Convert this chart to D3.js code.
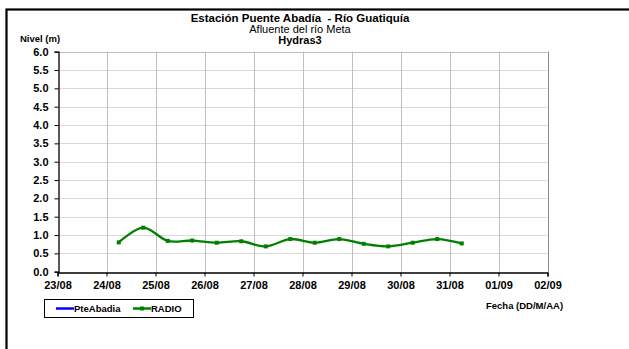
<!DOCTYPE html>
<html><head><meta charset="utf-8">
<script src="https://cdn.jsdelivr.net/npm/d3@7"></script>
<style>
html,body{margin:0;padding:0;background:#fff;}
svg{display:block;font-family:"Liberation Sans",Arial,sans-serif;}
text{white-space:pre;}
</style></head>
<body>
<svg id="c" width="629" height="349"></svg>
<script>
const titleLines = ["Estación Puente Abadía  - Río Guatiquía", "Afluente del río Meta", "Hydras3"];
const yLabel = "Nivel (m)";
const xLabel = "Fecha (DD/M/AA)";
const seriesNames = ["PteAbadia", "RADIO"];
const seriesColors = ["#0000ff", "#008000"];
const xDomain = ["2023-08-23T00:00", "2023-09-02T00:00"];
const yTicks = [0, 0.5, 1, 1.5, 2, 2.5, 3, 3.5, 4, 4.5, 5, 5.5, 6];
const pteAbadiaTimes = [];
const pteAbadiaValues = [];
const radioTimes = ["2023-08-24T06:00","2023-08-24T18:00","2023-08-25T06:00","2023-08-25T18:00",
  "2023-08-26T06:00","2023-08-26T18:00","2023-08-27T06:00","2023-08-27T18:00",
  "2023-08-28T06:00","2023-08-28T18:00","2023-08-29T06:00","2023-08-29T18:00",
  "2023-08-30T06:00","2023-08-30T18:00","2023-08-31T06:00"];
const radioValues = [0.80, 1.20, 0.84, 0.85, 0.79, 0.83, 0.69, 0.89, 0.79, 0.89, 0.76, 0.69, 0.79, 0.89, 0.77];

const svg = d3.select("#c");
const L = 57.5, R = 547.5, T = 51.7, B = 271.7;
const parse = d3.timeParse("%Y-%m-%dT%H:%M");
const x = d3.scaleTime().domain(xDomain.map(parse)).range([L, R]);
const y = d3.scaleLinear().domain([0, 6]).range([B, T]);

// outer frame
svg.append("rect").attr("x", 6.5).attr("y", 9.5).attr("width", 700).attr("height", 400)
  .attr("fill", "none").attr("stroke", "#000").attr("stroke-width", 2.2);

// gridlines
const days = x.ticks(d3.timeDay.every(1));
svg.append("g").selectAll("line").data(yTicks.filter(d => d > 0)).join("line")
  .attr("x1", L).attr("x2", R).attr("y1", d => Math.round(y(d)) + 0.5).attr("y2", d => Math.round(y(d)) + 0.5)
  .attr("stroke", "#d9d9d9").attr("stroke-width", 1);
svg.append("g").selectAll("line").data(days.slice(1)).join("line")
  .attr("x1", d => Math.round(x(d)) + 0.5).attr("x2", d => Math.round(x(d)) + 0.5).attr("y1", T).attr("y2", B)
  .attr("stroke", "#bfbfbf").attr("stroke-width", 1);
svg.append("line").attr("x1", L).attr("x2", R).attr("y1", Math.round(T) + 0.5).attr("y2", Math.round(T) + 0.5).attr("stroke", "#bfbfbf");
svg.append("line").attr("x1", Math.round(R) + 0.5).attr("x2", Math.round(R) + 0.5).attr("y1", T).attr("y2", B).attr("stroke", "#8c8c8c");

// axes
const yAxis = d3.axisLeft(y).tickValues(yTicks).tickFormat(d3.format(".1f")).tickSize(4).tickPadding(6);
const gy = svg.append("g").attr("transform", `translate(${Math.round(L) + 0.5},0)`).call(yAxis);
const xAxis = d3.axisBottom(x).ticks(d3.timeDay.every(1)).tickFormat(d3.timeFormat("%d/%m")).tickSize(4).tickPadding(5);
const gx = svg.append("g").attr("transform", `translate(0,${Math.round(B) + 0.5})`).call(xAxis);
[gx, gy].forEach(g => {
  g.select(".domain").attr("stroke", "#000").attr("stroke-width", 1.3);
  g.selectAll(".tick line").attr("stroke", "#000");
  g.selectAll(".tick text").attr("fill", "#000").attr("font-size", "11px").attr("font-weight", "bold")
    .attr("font-family", "Liberation Sans, Arial, sans-serif");
});

// series
const line = d3.line().x(d => x(d.t)).y(d => y(d.v)).curve(d3.curveCatmullRom.alpha(0));
const radio = radioTimes.map((t, i) => ({t: parse(t), v: radioValues[i]}));
const pte = pteAbadiaTimes.map((t, i) => ({t: parse(t), v: pteAbadiaValues[i]}));
svg.append("path").datum(pte).attr("d", pte.length ? line : null).attr("fill", "none").attr("stroke", seriesColors[0]).attr("stroke-width", 2.3);
svg.append("path").datum(radio).attr("d", line).attr("fill", "none").attr("stroke", seriesColors[1]).attr("stroke-width", 2.3);
svg.append("g").selectAll("rect").data(radio).join("rect")
  .attr("x", d => x(d.t) - 2).attr("y", d => y(d.v) - 2).attr("width", 4).attr("height", 4)
  .attr("fill", seriesColors[1]);

// titles
const tx = 300;
svg.append("text").attr("x", tx).attr("y", 22).attr("text-anchor", "middle").attr("font-size", "11.5px").attr("font-weight", "bold").text(titleLines[0]);
svg.append("text").attr("x", tx).attr("y", 33).attr("text-anchor", "middle").attr("font-size", "11px").text(titleLines[1]);
svg.append("text").attr("x", tx).attr("y", 43.5).attr("text-anchor", "middle").attr("font-size", "11px").attr("font-weight", "bold").text(titleLines[2]);
svg.append("text").attr("x", 20).attr("y", 42).attr("font-size", "9.5px").attr("font-weight", "bold").text(yLabel);
svg.append("text").attr("x", 486).attr("y", 309).attr("font-size", "9.5px").attr("font-weight", "bold").text(xLabel);

// legend
const lg = svg.append("g");
lg.append("rect").attr("x", 44.5).attr("y", 299.5).attr("width", 149).attr("height", 18).attr("fill", "#fff").attr("stroke", "#000").attr("stroke-width", 1);
const lx = [56, 133];
seriesNames.forEach((n, i) => {
  lg.append("line").attr("x1", lx[i]).attr("x2", lx[i] + 18).attr("y1", 308.5).attr("y2", 308.5).attr("stroke", seriesColors[i]).attr("stroke-width", 2.5);
  if (i === 1) lg.append("rect").attr("x", lx[i] + 7).attr("y", 306.5).attr("width", 4).attr("height", 4).attr("fill", seriesColors[i]);
  lg.append("text").attr("x", lx[i] + 18).attr("y", 312).attr("font-size", "9.5px").attr("font-weight", "bold").text(n);
});
</script>
</body></html>
